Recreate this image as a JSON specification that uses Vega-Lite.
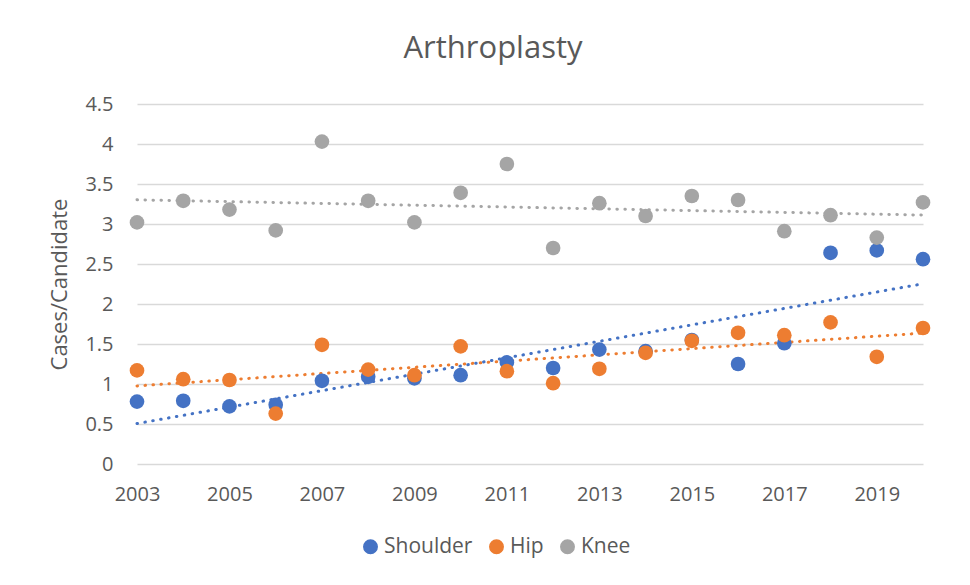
{
  "$schema": "https://vega.github.io/schema/vega-lite/v6.json",
  "autosize": "none",
  "width": 786,
  "height": 360,
  "padding": {"left": 137, "top": 104, "right": 47, "bottom": 121},
  "background": "white",
  "title": {
    "text": "Arthroplasty",
    "font": "Open Sans",
    "fontSize": 31,
    "fontWeight": "normal",
    "color": "#595959",
    "anchor": "middle",
    "frame": "group",
    "dx": -37,
    "offset": 29
  },
  "config": {
    "view": {"stroke": null},
    "font": "Open Sans"
  },
  "data": {
    "values": [
      {"year": 2003, "series": "Shoulder", "value": 0.78},
      {"year": 2004, "series": "Shoulder", "value": 0.79},
      {"year": 2005, "series": "Shoulder", "value": 0.72},
      {"year": 2006, "series": "Shoulder", "value": 0.74},
      {"year": 2007, "series": "Shoulder", "value": 1.04},
      {"year": 2008, "series": "Shoulder", "value": 1.09},
      {"year": 2009, "series": "Shoulder", "value": 1.07},
      {"year": 2010, "series": "Shoulder", "value": 1.11},
      {"year": 2011, "series": "Shoulder", "value": 1.27},
      {"year": 2012, "series": "Shoulder", "value": 1.2},
      {"year": 2013, "series": "Shoulder", "value": 1.43},
      {"year": 2014, "series": "Shoulder", "value": 1.41},
      {"year": 2015, "series": "Shoulder", "value": 1.55},
      {"year": 2016, "series": "Shoulder", "value": 1.25},
      {"year": 2017, "series": "Shoulder", "value": 1.51},
      {"year": 2018, "series": "Shoulder", "value": 2.64},
      {"year": 2019, "series": "Shoulder", "value": 2.67},
      {"year": 2020, "series": "Shoulder", "value": 2.56},
      {"year": 2003, "series": "Hip", "value": 1.17},
      {"year": 2004, "series": "Hip", "value": 1.06},
      {"year": 2005, "series": "Hip", "value": 1.05},
      {"year": 2006, "series": "Hip", "value": 0.63},
      {"year": 2007, "series": "Hip", "value": 1.49},
      {"year": 2008, "series": "Hip", "value": 1.18},
      {"year": 2009, "series": "Hip", "value": 1.11},
      {"year": 2010, "series": "Hip", "value": 1.47},
      {"year": 2011, "series": "Hip", "value": 1.16},
      {"year": 2012, "series": "Hip", "value": 1.01},
      {"year": 2013, "series": "Hip", "value": 1.19},
      {"year": 2014, "series": "Hip", "value": 1.39},
      {"year": 2015, "series": "Hip", "value": 1.54},
      {"year": 2016, "series": "Hip", "value": 1.64},
      {"year": 2017, "series": "Hip", "value": 1.61},
      {"year": 2018, "series": "Hip", "value": 1.77},
      {"year": 2019, "series": "Hip", "value": 1.34},
      {"year": 2020, "series": "Hip", "value": 1.7},
      {"year": 2003, "series": "Knee", "value": 3.02},
      {"year": 2004, "series": "Knee", "value": 3.29},
      {"year": 2005, "series": "Knee", "value": 3.18},
      {"year": 2006, "series": "Knee", "value": 2.92},
      {"year": 2007, "series": "Knee", "value": 4.03},
      {"year": 2008, "series": "Knee", "value": 3.29},
      {"year": 2009, "series": "Knee", "value": 3.02},
      {"year": 2010, "series": "Knee", "value": 3.39},
      {"year": 2011, "series": "Knee", "value": 3.75},
      {"year": 2012, "series": "Knee", "value": 2.7},
      {"year": 2013, "series": "Knee", "value": 3.26},
      {"year": 2014, "series": "Knee", "value": 3.1},
      {"year": 2015, "series": "Knee", "value": 3.35},
      {"year": 2016, "series": "Knee", "value": 3.3},
      {"year": 2017, "series": "Knee", "value": 2.91},
      {"year": 2018, "series": "Knee", "value": 3.11},
      {"year": 2019, "series": "Knee", "value": 2.83},
      {"year": 2020, "series": "Knee", "value": 3.27}
    ]
  },
  "encoding": {
    "x": {
      "field": "year",
      "type": "quantitative",
      "scale": {"domain": [2003, 2020], "nice": false, "zero": false},
      "axis": {
        "title": null,
        "values": [2003, 2005, 2007, 2009, 2011, 2013, 2015, 2017, 2019],
        "format": "d",
        "grid": false,
        "domain": false,
        "ticks": false,
        "labelFont": "Open Sans",
        "labelFontSize": 20,
        "labelColor": "#595959",
        "labelPadding": 20,
        "labelFlush": false
      }
    },
    "y": {
      "field": "value",
      "type": "quantitative",
      "scale": {"domain": [0, 4.5], "nice": false},
      "axis": {
        "title": "Cases/Candidate",
        "titleFont": "Open Sans",
        "titleFontSize": 22,
        "titleFontWeight": "normal",
        "titleColor": "#595959",
        "titlePadding": 13,
        "values": [0, 0.5, 1, 1.5, 2, 2.5, 3, 3.5, 4, 4.5],
        "format": ".1~f",
        "domain": false,
        "ticks": false,
        "grid": true,
        "gridColor": "#D9D9D9",
        "gridWidth": 1.3,
        "labelFont": "Open Sans",
        "labelFontSize": 20,
        "labelColor": "#595959",
        "labelPadding": 24
      }
    },
    "color": {
      "field": "series",
      "type": "nominal",
      "scale": {"domain": ["Shoulder", "Hip", "Knee"], "range": ["#4472C4", "#ED7D31", "#A5A5A5"]},
      "legend": {
        "title": null,
        "orient": "none",
        "direction": "horizontal",
        "legendX": 223,
        "legendY": 432,
        "symbolType": "circle",
        "symbolSize": 180,
        "symbolOpacity": 1,
        "labelFont": "Open Sans",
        "labelFontSize": 21,
        "labelColor": "#595959",
        "columnPadding": 13,
        "labelOffset": 3
      }
    }
  },
  "layer": [
    {
      "transform": [
        {"regression": "value", "on": "year", "groupby": ["series"], "method": "linear", "extent": [2003, 2020]}
      ],
      "mark": {"type": "line", "strokeWidth": 3, "strokeDash": [0.5, 7.5], "strokeCap": "round"}
    },
    {
      "mark": {"type": "circle", "size": 215, "opacity": 1}
    }
  ]
}
